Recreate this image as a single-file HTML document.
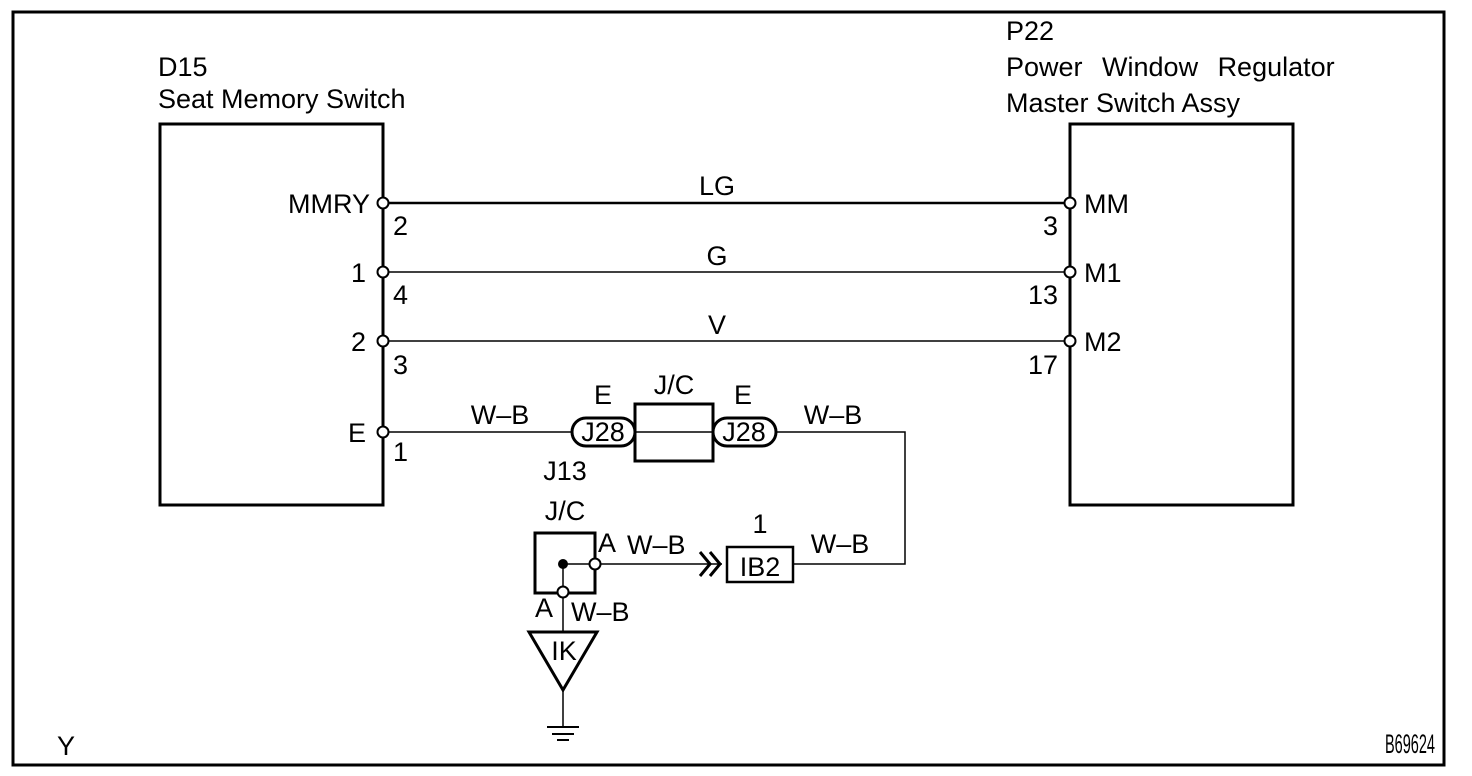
<!DOCTYPE html>
<html><head><style>
body{margin:0;background:#fff;}
svg{display:block;font-family:"Liberation Sans",sans-serif;}
text{font-size:27px;fill:#000;}
</style></head><body>
<svg width="1472" height="776" viewBox="0 0 1472 776">
<rect x="13" y="12" width="1431" height="753" fill="none" stroke="#000" stroke-width="3"/>
<rect x="160" y="124" width="223" height="381" fill="none" stroke="#000" stroke-width="3"/>
<rect x="1070" y="124" width="223" height="381" fill="none" stroke="#000" stroke-width="3"/>
<text x="158" y="76">D15</text>
<text x="158" y="108">Seat Memory Switch</text>
<text x="1006" y="40">P22</text>
<text x="1006" y="76" word-spacing="12">Power Window Regulator</text>
<text x="1006" y="112">Master Switch Assy</text>
<g stroke="#000" fill="none">
<line x1="383" y1="203" x2="1070" y2="203" stroke-width="2.5"/>
<line x1="383" y1="272" x2="1070" y2="272" stroke-width="1.5"/>
<line x1="383" y1="341" x2="1070" y2="341" stroke-width="1.5"/>
<line x1="383" y1="432" x2="572" y2="432" stroke-width="1.5"/>
<polyline points="776,432 905,432 905,564 793,564" stroke-width="1.5"/>
<rect x="635" y="404" width="78" height="57" stroke-width="3"/>
<line x1="635" y1="432" x2="713" y2="432" stroke-width="1.5"/>
<rect x="572" y="418" width="63" height="28" rx="14" stroke-width="3"/>
<rect x="713" y="418" width="63" height="28" rx="14" stroke-width="3"/>
<rect x="727" y="547" width="66" height="35" stroke-width="2.5"/>
<line x1="595" y1="564" x2="722" y2="564" stroke-width="1.5"/>
<polyline points="700,552 710,564 700,576" stroke-width="3"/>
<polyline points="710,552 720,564 710,576" stroke-width="3"/>
<rect x="535" y="533" width="60" height="60" stroke-width="3"/>
<line x1="563" y1="564" x2="595" y2="564" stroke-width="1.5"/>
<line x1="563" y1="564" x2="563" y2="632" stroke-width="1.5"/>
<polygon points="529,632 597,632 563,690" stroke-width="3"/>
<line x1="563" y1="690" x2="563" y2="727" stroke-width="1.5"/>
<line x1="547" y1="727" x2="579" y2="727" stroke-width="2"/>
<line x1="552" y1="734" x2="574" y2="734" stroke-width="2"/>
<line x1="557" y1="740" x2="569" y2="740" stroke-width="2"/>
</g>
<circle cx="563" cy="564" r="5" fill="#000"/>
<g fill="#fff" stroke="#000" stroke-width="2">
<circle cx="383" cy="203" r="5.5"/><circle cx="383" cy="272" r="5.5"/><circle cx="383" cy="341" r="5.5"/><circle cx="383" cy="432" r="5.5"/>
<circle cx="1070" cy="203" r="5.5"/><circle cx="1070" cy="272" r="5.5"/><circle cx="1070" cy="341" r="5.5"/>
<circle cx="595" cy="564" r="5.5"/><circle cx="563" cy="592" r="5.5"/>
</g>
<g text-anchor="end">
<text x="370" y="213">MMRY</text><text x="366" y="282">1</text><text x="366" y="351">2</text><text x="366" y="442">E</text>
<text x="1058" y="235">3</text><text x="1058" y="304">13</text><text x="1058" y="374">17</text>
</g>
<text x="393" y="235">2</text><text x="393" y="304">4</text><text x="393" y="374">3</text><text x="393" y="461">1</text>
<text x="1084" y="213">MM</text><text x="1084" y="282">M1</text><text x="1084" y="351">M2</text>
<g text-anchor="middle">
<text x="717" y="195">LG</text><text x="717" y="265">G</text><text x="717" y="334">V</text>
<text x="500" y="424">W–B</text><text x="833" y="424">W–B</text>
<text x="603" y="404">E</text><text x="743" y="404">E</text><text x="674" y="394">J/C</text>
<text x="603" y="441" font-size="25">J28</text><text x="744" y="441" font-size="25">J28</text>
<text x="565" y="480">J13</text><text x="565" y="520">J/C</text>
<text x="760" y="533">1</text><text x="760" y="576" font-size="25">IB2</text>
<text x="840" y="553">W–B</text>
<text x="564" y="660">IK</text>
</g>
<text x="598" y="552">A</text><text x="627" y="554" font-size="19">W–B</text>
<text x="535" y="617">A</text><text x="571" y="621" font-size="19">W–B</text>
<text x="57" y="755" font-size="15">Y</text>
<text x="1385" y="753" font-size="14" textLength="50" lengthAdjust="spacingAndGlyphs">B69624</text>
</svg>
</body></html>
